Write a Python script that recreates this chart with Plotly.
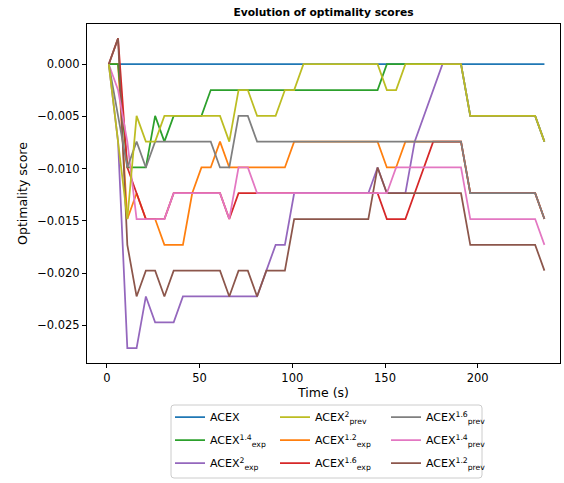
import plotly.graph_objects as go

# ---------------- data ----------------
time_s = [1, 6, 11, 16, 21, 26, 31, 36, 41, 46, 51, 56, 61, 66, 71, 76, 81, 86, 91, 96,
          101, 106, 111, 116, 121, 126, 131, 136, 141, 146, 151, 156, 161, 166, 171, 176,
          181, 186, 191, 196, 201, 206, 211, 216, 221, 226, 231, 236]

acex = [0, 0, 0, 0, 0, 0, 0, 0, 0, 0, 0, 0, 0, 0, 0, 0, 0, 0, 0, 0, 0, 0, 0, 0,
        0, 0, 0, 0, 0, 0, 0, 0, 0, 0, 0, 0, 0, 0, 0, 0, 0, 0, 0, 0, 0, 0, 0, 0]

acex_exp_12 = [0, 0, -0.01482, -0.01235, -0.01482, -0.01482, -0.01729, -0.01729, -0.01729, -0.01235,
               -0.00988, -0.00988, -0.00741, -0.00988, -0.00988, -0.00988, -0.00988, -0.00988, -0.00988, -0.00988,
               -0.00741, -0.00741, -0.00741, -0.00741, -0.00741, -0.00741, -0.00741, -0.00741, -0.00741, -0.00741,
               -0.00988, -0.00988, -0.00741, -0.00741, -0.00741, -0.00741, -0.00741, -0.00741, -0.00741, -0.01235,
               -0.01235, -0.01235, -0.01235, -0.01235, -0.01235, -0.01235, -0.01235, -0.01482]

acex_exp_14 = [0, 0, -0.00988, -0.00988, -0.00988, -0.00494, -0.00741, -0.00494, -0.00494, -0.00494,
               -0.00494, -0.00247, -0.00247, -0.00247, -0.00247, -0.00247, -0.00247, -0.00247, -0.00247, -0.00247,
               -0.00247, -0.00247, -0.00247, -0.00247, -0.00247, -0.00247, -0.00247, -0.00247, -0.00247, -0.00247,
               0, 0, 0, 0, 0, 0, 0, 0, 0, -0.00494,
               -0.00494, -0.00494, -0.00494, -0.00494, -0.00494, -0.00494, -0.00494, -0.00741]

acex_exp_16 = [0, 0.00247, -0.00988, -0.01235, -0.01482, -0.01482, -0.01482, -0.01235, -0.01235, -0.01235,
               -0.01235, -0.01235, -0.01235, -0.01482, -0.01235, -0.01235, -0.01235, -0.01235, -0.01235, -0.01235,
               -0.01235, -0.01235, -0.01235, -0.01235, -0.01235, -0.01235, -0.01235, -0.01235, -0.01235, -0.01235,
               -0.01482, -0.01482, -0.01482, -0.01235, -0.00988, -0.00741, -0.00741, -0.00741, -0.00741, -0.01235,
               -0.01235, -0.01235, -0.01235, -0.01235, -0.01235, -0.01235, -0.01235, -0.01482]

acex_exp_2 = [0, -0.00741, -0.02717, -0.02717, -0.02223, -0.0247, -0.0247, -0.0247, -0.02223, -0.02223,
              -0.02223, -0.02223, -0.02223, -0.02223, -0.02223, -0.02223, -0.02223, -0.01976, -0.01729, -0.01729,
              -0.01235, -0.01235, -0.01235, -0.01235, -0.01235, -0.01235, -0.01235, -0.01235, -0.01235, -0.00988,
              -0.01235, -0.01235, -0.01235, -0.00741, -0.00494, -0.00247, 0, 0, 0, -0.00494,
              -0.00494, -0.00494, -0.00494, -0.00494, -0.00494, -0.00494, -0.00494, -0.00741]

acex_prev_12 = [0, 0.00247, -0.01729, -0.02223, -0.01976, -0.01976, -0.02223, -0.01976, -0.01976, -0.01976,
                -0.01976, -0.01976, -0.01976, -0.02223, -0.01976, -0.01976, -0.02223, -0.01976, -0.01976, -0.01976,
                -0.01482, -0.01482, -0.01482, -0.01482, -0.01482, -0.01482, -0.01482, -0.01482, -0.01482, -0.00988,
                -0.01235, -0.01235, -0.01235, -0.01235, -0.01235, -0.01235, -0.01235, -0.01235, -0.01235, -0.01729,
                -0.01729, -0.01729, -0.01729, -0.01729, -0.01729, -0.01729, -0.01729, -0.01976]

acex_prev_14 = [0, -0.00247, -0.00741, -0.01482, -0.01482, -0.01482, -0.01482, -0.01235, -0.01235, -0.01235,
                -0.01235, -0.01235, -0.01235, -0.01482, -0.00988, -0.00988, -0.01235, -0.01235, -0.01235, -0.01235,
                -0.01235, -0.01235, -0.01235, -0.01235, -0.01235, -0.01235, -0.01235, -0.01235, -0.01235, -0.01235,
                -0.01235, -0.00988, -0.00988, -0.00988, -0.00988, -0.00988, -0.00988, -0.00988, -0.00988, -0.01482,
                -0.01482, -0.01482, -0.01482, -0.01482, -0.01482, -0.01482, -0.01482, -0.01729]

acex_prev_16 = [0, -0.00494, -0.00988, -0.00741, -0.00988, -0.00741, -0.00741, -0.00741, -0.00741, -0.00741,
                -0.00741, -0.00741, -0.00988, -0.00988, -0.00494, -0.00494, -0.00741, -0.00741, -0.00741, -0.00741,
                -0.00741, -0.00741, -0.00741, -0.00741, -0.00741, -0.00741, -0.00741, -0.00741, -0.00741, -0.00741,
                -0.00741, -0.00741, -0.00741, -0.00741, -0.00741, -0.00741, -0.00741, -0.00741, -0.00741, -0.01235,
                -0.01235, -0.01235, -0.01235, -0.01235, -0.01235, -0.01235, -0.01235, -0.01482]

acex_prev_2 = [0, -0.00741, -0.01482, -0.00494, -0.00741, -0.00741, -0.00494, -0.00494, -0.00494, -0.00494,
               -0.00494, -0.00494, -0.00494, -0.00741, -0.00247, -0.00247, -0.00494, -0.00494, -0.00494, -0.00247,
               -0.00247, 0, 0, 0, 0, 0, 0, 0, 0, 0,
               -0.00247, -0.00247, 0, 0, 0, 0, 0, 0, 0, -0.00494,
               -0.00494, -0.00494, -0.00494, -0.00494, -0.00494, -0.00494, -0.00494, -0.00741]

x_ticks = [0, 50, 100, 150, 200]
y_ticks = [0.0, -0.005, -0.01, -0.015, -0.02, -0.025]

# (label, values, colour, legend id, rank in legend column)
series = [
    ("ACEX", acex, "#1f77b4", "legend", 1),
    ("ACEX<sup>1.2</sup><sub>exp</sub>", acex_exp_12, "#ff7f0e", "legend2", 2),
    ("ACEX<sup>1.4</sup><sub>exp</sub>", acex_exp_14, "#2ca02c", "legend", 2),
    ("ACEX<sup>1.6</sup><sub>exp</sub>", acex_exp_16, "#d62728", "legend2", 3),
    ("ACEX<sup>2</sup><sub>exp</sub>", acex_exp_2, "#9467bd", "legend", 3),
    ("ACEX<sup>1.2</sup><sub>prev</sub>", acex_prev_12, "#8c564b", "legend3", 3),
    ("ACEX<sup>1.4</sup><sub>prev</sub>", acex_prev_14, "#e377c2", "legend3", 2),
    ("ACEX<sup>1.6</sup><sub>prev</sub>", acex_prev_16, "#7f7f7f", "legend3", 1),
    ("ACEX<sup>2</sup><sub>prev</sub>", acex_prev_2, "#bcbd22", "legend2", 1),
]

FONT = "DejaVu Sans"
W, H = 564, 483
ML, MR, MT, MB = 87, 4, 24, 120
PW, PH = W - ML - MR, H - MT - MB

fig = go.Figure()
for i, (name, vals, col, leg, rank) in enumerate(series):
    fig.add_trace(go.Scatter(
        x=time_s, y=vals, mode="lines", name=name,
        line=dict(color=col, width=1.75),
        legend=leg, legendrank=rank, legendgroup="g%d" % i,
    ))


def px2paper_x(px):
    return (px - ML) / PW


def px2paper_y(py):
    return (H - MB - py) / PH


legend_common = dict(
    xanchor="left", yanchor="top", bgcolor="rgba(0,0,0,0)", borderwidth=0,
    font=dict(family=FONT, size=11, color="#000"), tracegroupgap=4,
    itemwidth=30, traceorder="grouped",
)
legend_top = px2paper_y(402.5)

# legend frame (rounded rectangle)
x0, x1, y0, y1, r = 171, 482, 405, 478, 3
path = (
    f"M {px2paper_x(x0 + r)},{px2paper_y(y0)} L {px2paper_x(x1 - r)},{px2paper_y(y0)} "
    f"Q {px2paper_x(x1)},{px2paper_y(y0)} {px2paper_x(x1)},{px2paper_y(y0 + r)} "
    f"L {px2paper_x(x1)},{px2paper_y(y1 - r)} "
    f"Q {px2paper_x(x1)},{px2paper_y(y1)} {px2paper_x(x1 - r)},{px2paper_y(y1)} "
    f"L {px2paper_x(x0 + r)},{px2paper_y(y1)} "
    f"Q {px2paper_x(x0)},{px2paper_y(y1)} {px2paper_x(x0)},{px2paper_y(y1 - r)} "
    f"L {px2paper_x(x0)},{px2paper_y(y0 + r)} "
    f"Q {px2paper_x(x0)},{px2paper_y(y0)} {px2paper_x(x0 + r)},{px2paper_y(y0)} Z"
)

fig.update_layout(
    width=W, height=H,
    margin=dict(l=ML, r=MR, t=MT, b=MB, autoexpand=False),
    plot_bgcolor="white", paper_bgcolor="white",
    font=dict(family=FONT, size=11.5, color="#000"),
    title=dict(text="<b>Evolution of optimality scores</b>", x=0.5, xref="paper",
               xanchor="center", y=1 - 12.5 / H, yanchor="middle",
               font=dict(family=FONT, size=10.7, color="#000")),
    showlegend=True,
    legend=dict(x=px2paper_x(170), y=legend_top, **legend_common),
    legend2=dict(x=px2paper_x(275), y=legend_top, **legend_common),
    legend3=dict(x=px2paper_x(386), y=legend_top, **legend_common),
    shapes=[dict(type="path", path=path, xref="paper", yref="paper",
                 line=dict(color="#cccccc", width=1), fillcolor="rgba(255,255,255,0.8)",
                 layer="below")],
)

fig.update_xaxes(
    range=[-10.75, 244.4], tickvals=x_ticks, ticktext=[str(v) for v in x_ticks],
    automargin=False,
    showgrid=False, zeroline=False, showline=True, mirror=True,
    linecolor="black", linewidth=1, ticks="outside", ticklen=4, tickcolor="black",
    tickfont=dict(family=FONT, size=11.5, color="#000"),
    title=dict(text="Time (s)", font=dict(family=FONT, size=12.5, color="#000"), standoff=4),
)
fig.update_yaxes(
    range=[-0.0286, 0.00385], tickvals=y_ticks, tickformat=".3f",
    automargin=False,
    showgrid=False, zeroline=False, showline=True, mirror=True,
    linecolor="black", linewidth=1, ticks="outside", ticklen=4, tickcolor="black",
    tickfont=dict(family=FONT, size=11.5, color="#000"),
    title=dict(text="Optimality score", font=dict(family=FONT, size=12.5, color="#000"), standoff=6),
)

fig.write_html("out.html", config={"displayModeBar": False},
               post_script="document.body.style.margin='0px';")
